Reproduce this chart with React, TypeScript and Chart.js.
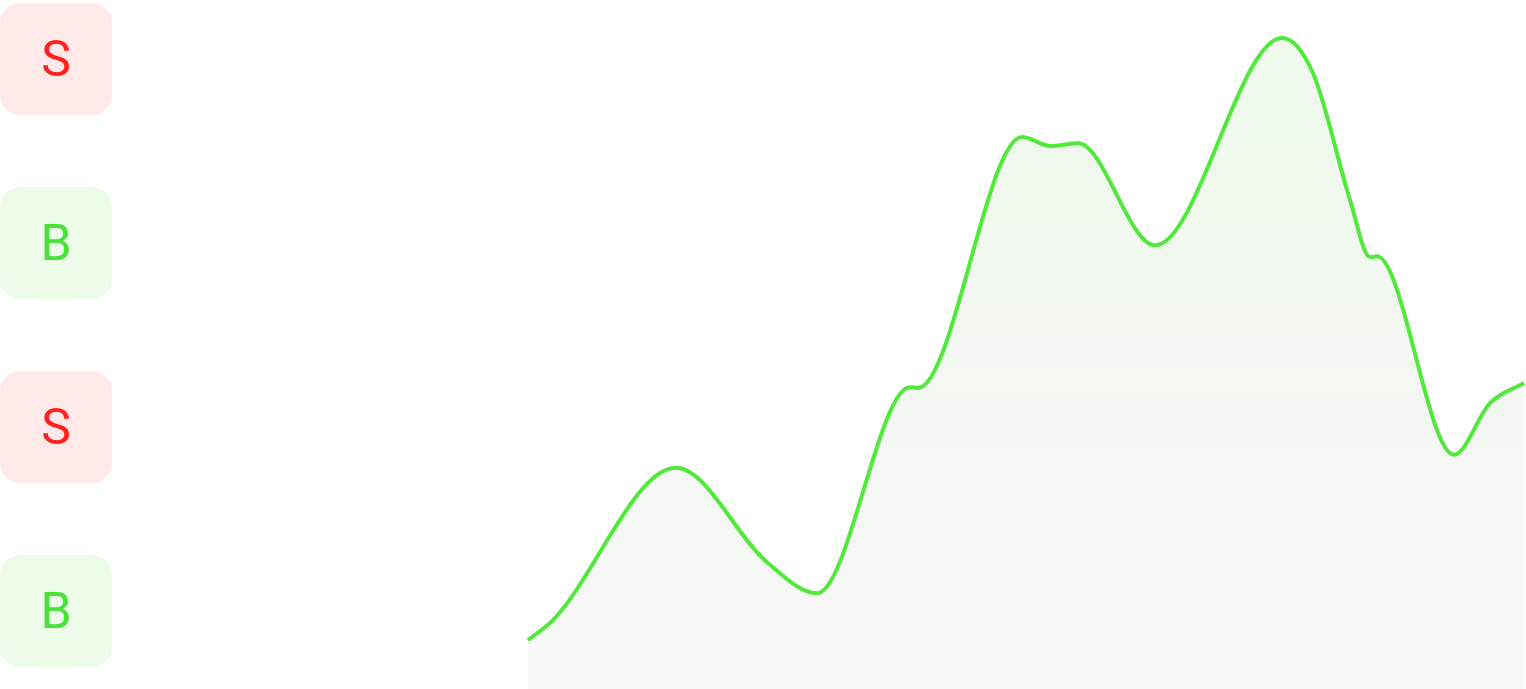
import React, { useEffect, useRef } from "react";
import { Chart, registerables } from "chart.js";

Chart.register(...registerables);

// x positions (time units) and values of the curve
const times = [
  0, 2.5, 14.8, 23.9, 28.9, 38.2, 39.0, 49.4, 52.3, 55.0, 62.7, 75.4, 78.5, 82.2, 84.2,
  84.9, 92.6, 96.2, 99.6,
];
const values = [
  7.1, 10.0, 32.1, 18.4, 13.9, 43.8, 43.7, 80.1, 78.8, 79.2, 64.4, 94.5, 89.4, 71.0, 62.7,
  62.8, 34.0, 41.5, 44.4,
];
const badgeLabels = ["S", "B", "S", "B"];

const LINE_COLOR = "#52e83c";

function Badge({ label, top }: { label: string; top: number }) {
  const sell = label === "S";
  return (
    <div
      style={{
        position: "absolute",
        left: 0,
        top,
        width: 112,
        height: 112,
        borderRadius: 20,
        background: sell ? "#ffe9e9" : "#edfbe9",
        color: sell ? "#ff2020" : "#4be03a",
        display: "flex",
        alignItems: "center",
        justifyContent: "center",
        fontFamily: "Roboto, sans-serif",
        fontSize: 50,
        lineHeight: 1,
      }}
    >
      {label}
    </div>
  );
}

export default function App() {
  const canvasRef = useRef<HTMLCanvasElement | null>(null);

  useEffect(() => {
    const canvas = canvasRef.current;
    if (!canvas) return;
    const ctx = canvas.getContext("2d")!;
    const grad = ctx.createLinearGradient(0, 0, 0, 689);
    grad.addColorStop(0, "#eef9eb");
    grad.addColorStop(1, "#f7f7f7");
    const chart = new Chart(canvas, {
      type: "line",
      data: {
        datasets: [
          {
            data: times.map((t, i) => ({ x: t, y: values[i] })),
            borderColor: LINE_COLOR,
            borderWidth: 4,
            backgroundColor: grad,
            fill: "start",
            pointRadius: 0,
            cubicInterpolationMode: "monotone",
            clip: false as any,
          },
        ],
      },
      options: {
        animation: false,
        responsive: false,
        maintainAspectRatio: false,
        layout: { padding: { left: 10, right: 2, top: 0, bottom: 0 } },
        plugins: { legend: { display: false }, tooltip: { enabled: false } },
        scales: {
          x: { type: "linear", min: 0, max: 99.6, display: false },
          y: { type: "linear", min: 0, max: 100, display: false },
        },
      },
    });
    return () => chart.destroy();
  }, []);

  return (
    <div style={{ position: "fixed", left: 0, top: 0, width: 1526, height: 689, background: "#fff", overflow: "hidden" }}>
      {badgeLabels.map((l, i) => (
        <Badge key={i} label={l} top={3 + i * 184} />
      ))}
      <div style={{ position: "absolute", left: 518, top: 0, width: 1008, height: 689 }}>
        <canvas ref={canvasRef} width={1008} height={689} style={{ display: "block" }} />
      </div>
    </div>
  );
}
